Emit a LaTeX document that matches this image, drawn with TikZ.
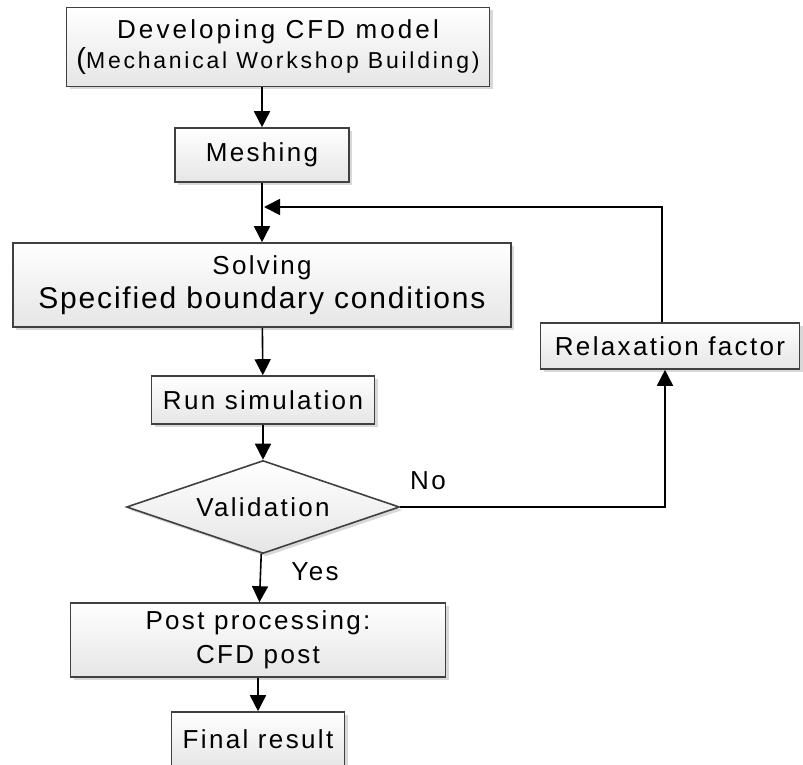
\documentclass[tikz,border=0pt]{standalone}
\usepackage{fontspec}
\setmainfont{Liberation Sans}[LetterSpace=9]
\usepackage{tikz}
\usetikzlibrary{shapes.geometric}
\usetikzlibrary{shadows}
\usetikzlibrary{arrows.meta}
\definecolor{Frame}{RGB}{64,64,64}
\tikzstyle{Box}=[draw=Frame,line width=1.6pt,top color=white,
bottom color=black!10,inner sep=0pt,align=center,
drop shadow={shadow xshift=3pt,shadow yshift=-3pt,fill=black!30,opacity=.5},
font=\fontsize{26}{34}\selectfont]
\tikzstyle{Decision}=[Box,diamond,aspect=2.9]
\tikzstyle{Arrow}=[draw=black,line width=1.6pt,
-{Triangle[length=16pt,width=16pt]}]
\tikzstyle{Label}=[font=\fontsize{26}{26}\selectfont]
\begin{document}
\begin{tikzpicture}[x=1pt,y=-1pt]
            \useasboundingbox(0,0)rectangle(803,765);
            \node[Box,minimum width=423pt,minimum height=79pt](dev)at(278,47)
                {{\addfontfeatures{LetterSpace=12}Developing CFD model}\\[-4pt]
                {\fontsize{23}{30}\selectfont\addfontfeatures{LetterSpace=12}%
                {\fontsize{29}{30}\selectfont(}Mechanical
                Workshop Building)}};
            \node[Box,minimum width=174pt,minimum height=54pt](mesh)at(262,155)
                {Meshing};
            \node[Box,minimum width=498pt,minimum height=84pt](solve)at(262,285)
                {Solving\\{\fontsize{30}{38}\selectfont\addfontfeatures{LetterSpace=6}%
                Specified boundary conditions}};
            \node[Box,minimum width=223pt,minimum height=48pt](run)at(263,400)
                {Run simulation};
            \node[Decision,minimum width=273pt,minimum height=93pt](valid)at(263,507)
                {Validation};
            \node[Box,minimum width=259pt,minimum height=46pt](relax)at(670,346)
                {Relaxation factor};
            \node[Box,minimum width=375pt,minimum height=74pt](post)at(258,640)
                {Post processing:\\CFD post};
            \node[Box,minimum width=173pt,minimum height=54pt](final)at(258,739)
                {Final result};
            \coordinate(back)at(264,207);
            \draw[Arrow](mesh.north|-dev.south)--(mesh.north);
            \draw[Arrow](mesh)--(solve);
            \draw[Arrow](solve)--(run);
            \draw[Arrow](run)--(valid);
            \draw[Arrow](valid)--(post);
            \draw[Arrow](post)--(final);
            %
            \draw[Arrow]([xshift=-8pt]relax.north)|-(back);
            \draw[Arrow](valid.east)-|([xshift=-5pt]relax.south);
            \node[Label](no)at(428,481){No};
            \node[Label](yes)at(315,572){Yes};
        \end{tikzpicture}
\end{document}
